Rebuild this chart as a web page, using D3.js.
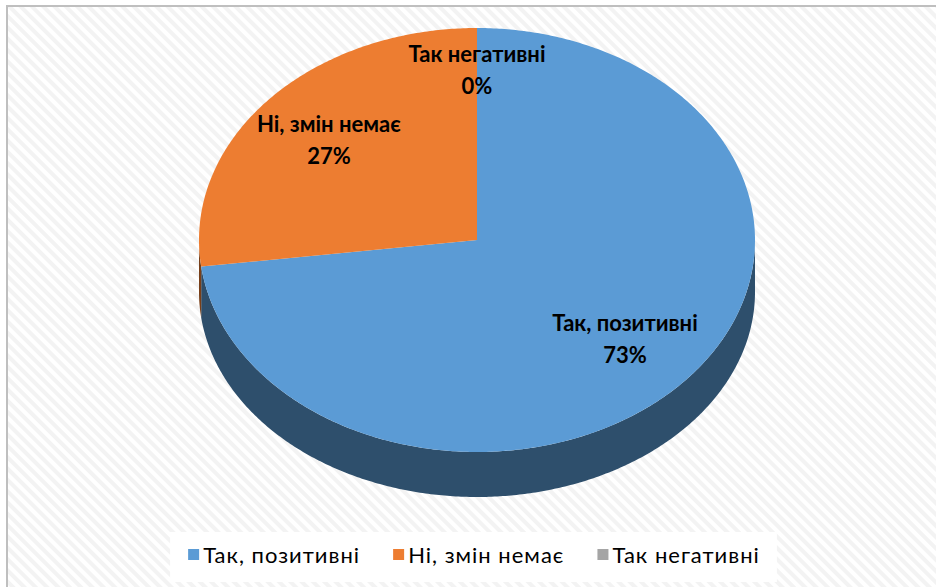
<!DOCTYPE html>
<html>
<head>
<meta charset="utf-8">
<script src="https://cdn.jsdelivr.net/npm/d3@7"></script>
<style>
  body { margin: 0; background: #fff; }
  svg { display: block; }
</style>
</head>
<body>
<div id="chart"></div>
<script>
var categories = ["Так, позитивні", "Ні, змін немає", "Так негативні"];
var values = [73, 27, 0];
var colors = ["#5B9BD5", "#ED7D31", "#A5A5A5"];

var width = 936, height = 587;
var cx = 477, cy = 240, rx = 278, ry = 212;
var depth = 52, ryBottom = 205;

var svg = d3.select("#chart")
  .append("svg")
    .attr("width", width)
    .attr("height", height);

// diagonal stripe background like the excel texture
var defs = svg.append("defs");
var pat = defs.append("pattern")
    .attr("id", "stripes")
    .attr("patternUnits", "userSpaceOnUse")
    .attr("width", 8)
    .attr("height", 8)
    .attr("patternTransform", "rotate(-45)");
pat.append("rect").attr("width", 8).attr("height", 8).attr("fill", "#ffffff");
pat.append("rect").attr("width", 4).attr("height", 8).attr("fill", "#f3f3f3");

svg.append("rect")
    .attr("x", 7).attr("y", 6)
    .attr("width", 960).attr("height", 620)
    .attr("fill", "url(#stripes)")
    .attr("stroke", "#bfbfbf")
    .attr("stroke-width", 2);

var pie = d3.pie().sort(null).value(function(d) { return d; });
var arcs = pie(values);
var total = d3.sum(values);
var fmt = d3.format(".0%");

function topPt(a) { return [cx + rx * Math.sin(a), cy - ry * Math.cos(a)]; }
function botPt(a) { return [cx + rx * Math.sin(a), cy + depth - ryBottom * Math.cos(a)]; }

function sample(a0, a1) {
  var n = Math.max(2, Math.ceil((a1 - a0) / 0.01));
  return d3.range(n + 1).map(function(i) { return a0 + (a1 - a0) * i / n; });
}

function topPath(d) {
  if (d.endAngle - d.startAngle <= 0) return null;
  var pts = sample(d.startAngle, d.endAngle).map(topPt);
  return "M" + cx + "," + cy + "L" + pts.map(function(p) { return p.join(","); }).join("L") + "Z";
}

function sidePath(d) {
  var a0 = Math.max(d.startAngle, Math.PI / 2),
      a1 = Math.min(d.endAngle, Math.PI * 1.5);
  if (a1 <= a0) return null;
  var s = sample(a0, a1);
  var top = s.map(topPt);
  var bot = s.slice().reverse().map(botPt);
  return "M" + top.concat(bot).map(function(p) { return p.join(","); }).join("L") + "Z";
}

var pieG = svg.append("g");

pieG.selectAll(".side")
  .data(arcs)
  .enter()
  .append("path")
    .attr("class", "side")
    .attr("d", sidePath)
    .attr("fill", function(d, i) { return d3.color(colors[i]).darker(1.9); });

pieG.selectAll(".top")
  .data(arcs)
  .enter()
  .append("path")
    .attr("class", "top")
    .attr("d", topPath)
    .attr("fill", function(d, i) { return colors[i]; });

// data labels
var lbl = svg.selectAll(".lbl")
  .data(arcs)
  .enter()
  .append("g")
    .attr("class", "lbl")
    .attr("transform", function(d) {
      var a = (d.startAngle + d.endAngle) / 2;
      var f = d.value === 0 ? 0.8 : 0.71;
      return "translate(" + (cx + rx * f * Math.sin(a)) + "," + (cy - ry * f * Math.cos(a)) + ")";
    })
    .style("font-family", "Lato, 'Open Sans', sans-serif")
    .style("font-weight", "bold")
    .style("font-size", "22px")
    .attr("text-anchor", "middle")
    .attr("fill", "#000");

lbl.append("text")
    .attr("y", -16)
    .attr("dy", "0.35em")
    .text(function(d, i) { return categories[i]; });
lbl.append("text")
    .attr("y", 16)
    .attr("dy", "0.35em")
    .text(function(d) { return fmt(d.value / total); });

// legend
var legBox = svg.append("rect").attr("fill", "#fff");
var leg = svg.append("g");
var sq = 11, gap = 33, x = 0;
categories.forEach(function(c, i) {
  var g = leg.append("g").attr("transform", "translate(" + x + ",0)");
  g.append("rect")
    .attr("x", 0).attr("y", -6)
    .attr("width", sq).attr("height", sq)
    .attr("fill", colors[i]);
  var t = g.append("text")
    .attr("x", sq + 4)
    .attr("y", 0)
    .attr("dy", "0.35em")
    .style("font-family", "Lato, 'Open Sans', sans-serif")
    .style("font-size", "22px")
    .style("letter-spacing", "1px")
    .attr("fill", "#000")
    .text(c);
  x += sq + 4 + t.node().getComputedTextLength() + gap;
});
var legW = x - gap;
var legX = 474 - legW / 2, legY = 555;
leg.attr("transform", "translate(" + legX + "," + legY + ")");
legBox
  .attr("x", legX - 18).attr("y", 532)
  .attr("width", legW + 35).attr("height", 50);
</script>
</body>
</html>
